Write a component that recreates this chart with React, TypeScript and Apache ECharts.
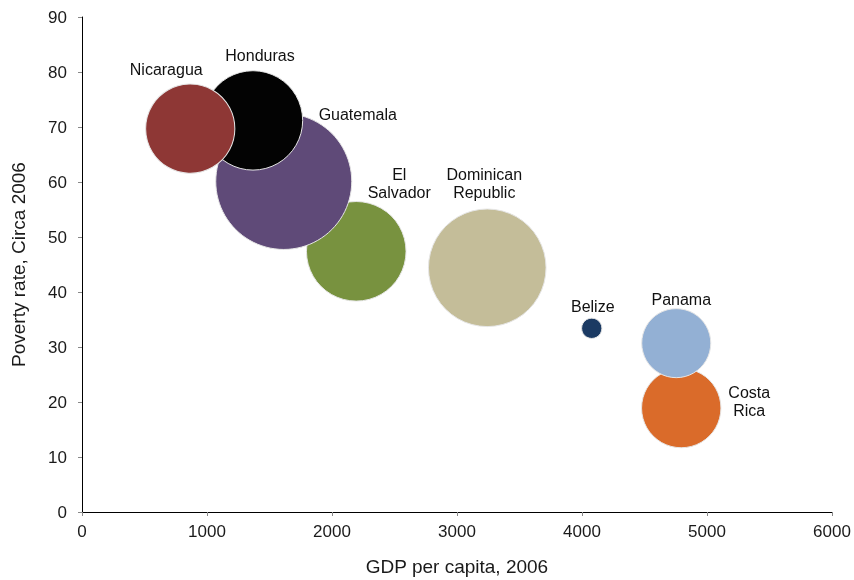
import React, { useEffect, useRef } from "react";
import * as echarts from "echarts";

// Drawing order (later ones on top)
const countries = ["Costa Rica", "Panama", "Belize", "Dominican Republic", "El Salvador", "Guatemala", "Honduras", "Nicaragua"];
const gdpPerCapita = [4794, 4754, 4078, 3242, 2194, 1614, 1368, 866];
const povertyRate = [18.9, 30.7, 33.4, 44.4, 47.4, 60.1, 71.2, 69.7];
const population = [4.43, 3.35, 0.29, 9.72, 6.97, 13.0, 6.94, 5.59];

const xTicks = [0, 1000, 2000, 3000, 4000, 5000, 6000];
const yTicks = [0, 10, 20, 30, 40, 50, 60, 70, 80, 90];

const colors: Record<string, string> = {
  "Costa Rica": "#DA6B2A",
  Panama: "#93B0D4",
  Belize: "#1B3A63",
  "Dominican Republic": "#C4BD99",
  "El Salvador": "#78923F",
  Guatemala: "#5F4A78",
  Honduras: "#030303",
  Nicaragua: "#8E3735",
};

const labelText: Record<string, string> = {
  "Costa Rica": "Costa\nRica",
  "Dominican Republic": "Dominican\nRepublic",
  "El Salvador": "El\nSalvador",
};

const labelOffset: Record<string, [number, number]> = {
  "Costa Rica": [68, -7],
  Panama: [5, -44],
  Belize: [1, -22],
  "Dominican Republic": [-3, -84],
  "El Salvador": [43, -68],
  Guatemala: [74, -67],
  Honduras: [7, -65],
  Nicaragua: [-24, -59],
};

const FONT = "'Liberation Sans', Arial, sans-serif";

export default function App() {
  const ref = useRef<HTMLDivElement>(null);
  useEffect(() => {
    if (!ref.current) return;
    const chart = echarts.init(ref.current, null, { renderer: "svg" });
    const series = countries.map((c, i) => ({
      type: "scatter",
      name: c,
      data: [{ name: c, value: [gdpPerCapita[i], povertyRate[i], population[i]] }],
      symbol: "circle",
      symbolSize: (v: number[]) => 2 * 68 * Math.sqrt(v[2] / 13),
      itemStyle: { color: colors[c], opacity: 1, borderColor: "#e6e6e6", borderWidth: 1 },
      emphasis: { disabled: true },
      z: 2,
      label: {
        show: true,
        position: "inside",
        offset: labelOffset[c],
        formatter: () => labelText[c] || c,
        color: "#111",
        fontSize: 16,
        lineHeight: 18,
        align: "center",
        verticalAlign: "middle",
        fontFamily: FONT,
      },
    }));
    chart.setOption({
      animation: false,
      textStyle: { fontFamily: FONT },
      grid: { left: 82, right: 22, top: 17, bottom: 68, containLabel: false, outerBoundsMode: "none" },
      xAxis: {
        type: "value",
        min: xTicks[0],
        max: xTicks[xTicks.length - 1],
        interval: 1000,
        name: "GDP per capita, 2006",
        nameLocation: "middle",
        nameGap: 45,
        nameTextStyle: { fontSize: 19, color: "#1a1a1a", fontFamily: FONT },
        axisLine: { show: true, onZero: false, lineStyle: { color: "#000", width: 1 } },
        axisTick: { show: true, length: 4, lineStyle: { color: "#888" } },
        axisLabel: { fontSize: 17, color: "#1a1a1a", margin: 11, fontFamily: FONT, formatter: (v: number) => String(v) },
        splitLine: { show: false },
      },
      yAxis: {
        type: "value",
        min: yTicks[0],
        max: yTicks[yTicks.length - 1],
        interval: 10,
        name: "Poverty rate, Circa 2006",
        nameLocation: "middle",
        nameGap: 54,
        nameTextStyle: { fontSize: 19, color: "#1a1a1a", fontFamily: FONT },
        axisLine: { show: true, onZero: false, lineStyle: { color: "#000", width: 1 } },
        axisTick: { show: true, length: 4, lineStyle: { color: "#888" } },
        axisLabel: { fontSize: 17, color: "#1a1a1a", margin: 15, fontFamily: FONT, formatter: (v: number) => String(v) },
        splitLine: { show: false },
      },
      series,
    });
    return () => chart.dispose();
  }, []);
  return <div ref={ref} style={{ position: "fixed", left: 0, top: 0, width: 854, height: 580 }} />;
}
